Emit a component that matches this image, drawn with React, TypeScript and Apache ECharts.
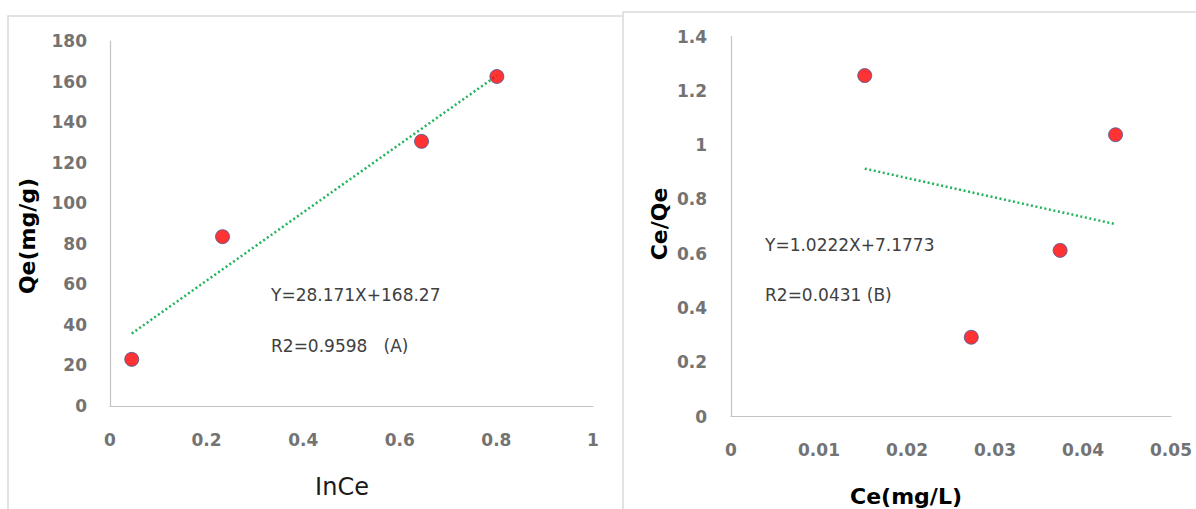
import React, { useEffect, useRef } from "react";
import * as echarts from "echarts";

// Panel A: Qe vs lnCe
const aX = [0.045, 0.233, 0.645, 0.801];
const aY = [23, 83.5, 130.5, 162.5];
const aSlope = 168.27;
const aIntercept = 28.171;
const aEquation = "Y=28.171X+168.27";
const aR2 = "R2=0.9598   (A)";
const aXTitle = "InCe";
const aYTitle = "Qe(mg/g)";

// Panel B: Ce/Qe vs Ce
const bX = [0.0152, 0.0273, 0.0374, 0.0437];
const bY = [1.256, 0.292, 0.612, 1.038];
const bSlope = -7.1773;
const bIntercept = 1.0222;
const bEquation = "Y=1.0222X+7.1773";
const bR2 = "R2=0.0431 (B)";
const bXTitle = "Ce(mg/L)";
const bYTitle = "Ce/Qe";

const FONT = '"DejaVu Sans", "Noto Sans", sans-serif';
const TICK_COLOR = "#737373";
const AXIS_COLOR = "#c4c4c4";
const TREND_COLOR = "#1fb45a";

function trend(xs: number[], slope: number, intercept: number) {
  const lo = Math.min(...xs);
  const hi = Math.max(...xs);
  return [
    [lo, slope * lo + intercept],
    [hi, slope * hi + intercept],
  ];
}

function tickLabel(margin: number) {
  return {
    color: TICK_COLOR,
    fontFamily: FONT,
    fontWeight: "bold",
    fontSize: 17,
    margin,
  };
}

function axisCommon(extra: any) {
  return {
    type: "value",
    axisLine: { show: true, lineStyle: { color: AXIS_COLOR, width: 1.2 } },
    axisTick: { show: false },
    splitLine: { show: false },
    ...extra,
  };
}

function text(x: number, y: number, t: string, size: number, bold: boolean, fill: string, align: string, rotate = false) {
  return {
    type: "text",
    x,
    y,
    rotation: rotate ? Math.PI / 2 : 0,
    style: {
      text: t,
      fontFamily: FONT,
      fontWeight: bold ? "bold" : "normal",
      fontSize: size,
      fill,
      align,
      verticalAlign: "middle",
    },
  };
}

export default function App() {
  const ref = useRef<HTMLDivElement>(null);

  useEffect(() => {
    if (!ref.current) return;
    const chart = echarts.init(ref.current, null, { renderer: "svg" });

    const scatterStyle = {
      color: "#ff0000",
      borderColor: "#3d5a99",
      borderWidth: 1,
    };
    const trendStyle = {
      color: TREND_COLOR,
      width: 2.5,
      type: [2, 2.6],
    };

    const option: any = {
      animation: false,
      backgroundColor: "#ffffff",
      grid: [
        { left: 110, top: 41, width: 483, height: 365 },
        { left: 731, top: 36.5, width: 440, height: 380 },
      ],
      xAxis: [
        axisCommon({ gridIndex: 0, min: 0, max: 1, interval: 0.2, axisLabel: tickLabel(25) }),
        axisCommon({ gridIndex: 1, min: 0, max: 0.05, interval: 0.01, axisLabel: tickLabel(25) }),
      ],
      yAxis: [
        axisCommon({ gridIndex: 0, min: 0, max: 180, interval: 20, axisLabel: tickLabel(23) }),
        axisCommon({ gridIndex: 1, min: 0, max: 1.4, interval: 0.2, axisLabel: tickLabel(24) }),
      ],
      series: [
        {
          type: "line",
          xAxisIndex: 0,
          yAxisIndex: 0,
          data: trend(aX, aSlope, aIntercept),
          symbol: "none",
          lineStyle: trendStyle,
          z: 2,
        },
        {
          type: "scatter",
          xAxisIndex: 0,
          yAxisIndex: 0,
          data: aX.map((x, i) => [x, aY[i]]),
          symbolSize: 14,
          itemStyle: scatterStyle,
          z: 3,
        },
        {
          type: "line",
          xAxisIndex: 1,
          yAxisIndex: 1,
          data: trend(bX, bSlope, bIntercept),
          symbol: "none",
          lineStyle: trendStyle,
          z: 2,
        },
        {
          type: "scatter",
          xAxisIndex: 1,
          yAxisIndex: 1,
          data: bX.map((x, i) => [x, bY[i]]),
          symbolSize: 14,
          itemStyle: scatterStyle,
          z: 3,
        },
      ],
      graphic: [
        {
          type: "rect",
          z: -10,
          shape: { x: 8, y: 16, width: 700, height: 600 },
          style: { fill: "#ffffff", stroke: "#d9d9d9", lineWidth: 1.5 },
        },
        {
          type: "rect",
          z: -9,
          shape: { x: 623, y: 12, width: 700, height: 600 },
          style: { fill: "#ffffff", stroke: "#d9d9d9", lineWidth: 1.5 },
        },
        text(27, 236, aYTitle, 22, true, "#000000", "center", true),
        text(342, 487, aXTitle, 24, false, "#1a1a1a", "center"),
        text(271, 295, aEquation, 17, false, "#404040", "left"),
        text(271, 346, aR2, 17, false, "#404040", "left"),
        text(659, 224, bYTitle, 22, true, "#000000", "center", true),
        text(906, 496, bXTitle, 22, true, "#000000", "center"),
        text(765, 245, bEquation, 17, false, "#404040", "left"),
        text(765, 295, bR2, 17, false, "#404040", "left"),
      ],
    };

    chart.setOption(option);
    return () => chart.dispose();
  }, []);

  return (
    <div
      ref={ref}
      style={{ position: "fixed", left: 0, top: 0, width: 1196, height: 509 }}
    />
  );
}
